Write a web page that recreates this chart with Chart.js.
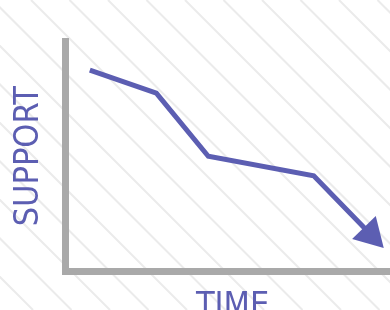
<!DOCTYPE HTML>
<html>
<head>
<title>Support over time</title>
<style>
  body { margin: 0; background: #fff; }
</style>
</head>
<body>
<canvas id="myChart" width="390" height="310"></canvas>
<script src="https://cdn.jsdelivr.net/npm/chart.js@4/dist/chart.umd.min.js"></script>
<script>
  // values (arbitrary units, 0..100)
  const time = [7.5, 28, 44, 76.5, 94];
  const support = [87.5, 77.5, 50, 41.5, 16];
  const xTitle = ' TIME';
  const yTitle = 'SUPPORT';

  const purple = '#5c5eb2';
  const axisGray = '#a9a9a9';
  const font = { family: '"Liberation Sans Narrow", "DejaVu Sans Condensed", Roboto, sans-serif', size: 34, lineHeight: 1 };

  // last point becomes the arrow head
  const last = time.length - 1;
  const radii = time.map((t, i) => i == last ? 19 : 0);
  const rotations = time.map((t, i) => i == last ? 136 : 0);

  // diagonal stripes behind everything
  const stripes = {
    id: 'stripes',
    beforeDraw(chart) {
      const ctx = chart.ctx;
      const w = chart.width, h = chart.height;
      ctx.save();
      ctx.fillStyle = '#fff';
      ctx.fillRect(0, 0, w, h);
      ctx.strokeStyle = '#ebebeb';
      ctx.lineWidth = 2;
      for (let c = 31 - 38.5 * 10; c < w + 38.5; c += 38.5) {
        ctx.beginPath();
        ctx.moveTo(c, 0);
        ctx.lineTo(c + h, h);
        ctx.stroke();
      }
      ctx.restore();
    }
  };

  const data = {
    datasets: [{
      data: time.map((t, i) => ({ x: t, y: support[i] })),
      borderColor: purple,
      backgroundColor: purple,
      borderWidth: 5,
      borderJoinStyle: 'miter',
      tension: 0,
      pointStyle: 'triangle',
      pointRadius: radii,
      pointRotation: rotations,
      pointBorderWidth: 0,
      pointBackgroundColor: purple,
      clip: false
    }]
  };

  const config = {
    type: 'line',
    data: data,
    options: {
      responsive: false,
      animation: false,
      events: [],
      layout: { autoPadding: false, padding: { top: 41.5, left: 0, right: 0, bottom: -14 } },
      plugins: { legend: { display: false }, tooltip: { enabled: false } },
      scales: {
        x: {
          type: 'linear', min: 0, max: 100,
          grid: { display: false, drawTicks: false },
          border: { display: true, color: axisGray, width: 7 },
          ticks: { display: false },
          title: { display: true, text: xTitle, color: purple, font: font, padding: { top: 19, bottom: 0 } }
        },
        y: {
          type: 'linear', min: 0, max: 100,
          grid: { display: false, drawTicks: false },
          border: { display: true, color: axisGray, width: 7 },
          ticks: { display: false },
          title: { display: true, text: yTitle, color: purple, font: font, padding: { top: 12.5, bottom: 19 } }
        }
      }
    },
    plugins: [stripes]
  };

  const myChart = new Chart(document.getElementById('myChart'), config);
</script>
</body>
</html>
